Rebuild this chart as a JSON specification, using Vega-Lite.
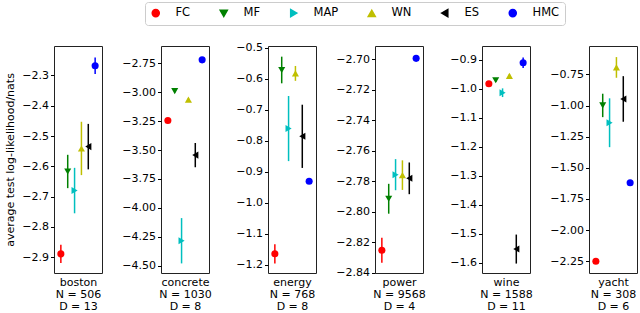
{
  "$schema": "https://vega.github.io/schema/vega-lite/v6.json",
  "padding": {"left": 4, "top": 1, "right": 0, "bottom": 0},
  "background": "white",
  "datasets": {
    "d": [
      {"dataset": "boston", "method": "FC", "mean": -2.889, "err": 0.03},
      {"dataset": "boston", "method": "MF", "mean": -2.617, "err": 0.055},
      {"dataset": "boston", "method": "MAP", "mean": -2.68, "err": 0.075},
      {"dataset": "boston", "method": "WN", "mean": -2.541, "err": 0.088},
      {"dataset": "boston", "method": "ES", "mean": -2.535, "err": 0.075},
      {"dataset": "boston", "method": "HMC", "mean": -2.268, "err": 0.027},
      {"dataset": "concrete", "method": "FC", "mean": -3.244, "err": 0.012},
      {"dataset": "concrete", "method": "MF", "mean": -2.99, "err": 0.012},
      {"dataset": "concrete", "method": "MAP", "mean": -4.285, "err": 0.196},
      {"dataset": "concrete", "method": "WN", "mean": -3.064, "err": 0.012},
      {"dataset": "concrete", "method": "ES", "mean": -3.544, "err": 0.105},
      {"dataset": "concrete", "method": "HMC", "mean": -2.72, "err": 0.012},
      {"dataset": "energy", "method": "FC", "mean": -1.165, "err": 0.031},
      {"dataset": "energy", "method": "MF", "mean": -0.572, "err": 0.043},
      {"dataset": "energy", "method": "MAP", "mean": -0.761, "err": 0.105},
      {"dataset": "energy", "method": "WN", "mean": -0.583, "err": 0.024},
      {"dataset": "energy", "method": "ES", "mean": -0.786, "err": 0.102},
      {"dataset": "energy", "method": "HMC", "mean": -0.931, "err": 0.004},
      {"dataset": "power", "method": "FC", "mean": -2.8254, "err": 0.0082},
      {"dataset": "power", "method": "MF", "mean": -2.7916, "err": 0.0098},
      {"dataset": "power", "method": "MAP", "mean": -2.7758, "err": 0.0102},
      {"dataset": "power", "method": "WN", "mean": -2.7761, "err": 0.0097},
      {"dataset": "power", "method": "ES", "mean": -2.7782, "err": 0.0104},
      {"dataset": "power", "method": "HMC", "mean": -2.6995, "err": 0.001},
      {"dataset": "wine", "method": "FC", "mean": -0.982, "err": 0.006},
      {"dataset": "wine", "method": "MF", "mean": -0.97, "err": 0.006},
      {"dataset": "wine", "method": "MAP", "mean": -1.013, "err": 0.015},
      {"dataset": "wine", "method": "WN", "mean": -0.955, "err": 0.006},
      {"dataset": "wine", "method": "ES", "mean": -1.552, "err": 0.05},
      {"dataset": "wine", "method": "HMC", "mean": -0.91, "err": 0.018},
      {"dataset": "yacht", "method": "FC", "mean": -2.25, "err": 0.01},
      {"dataset": "yacht", "method": "MF", "mean": -0.999, "err": 0.094},
      {"dataset": "yacht", "method": "MAP", "mean": -1.138, "err": 0.196},
      {"dataset": "yacht", "method": "WN", "mean": -0.694, "err": 0.083},
      {"dataset": "yacht", "method": "ES", "mean": -0.947, "err": 0.183},
      {"dataset": "yacht", "method": "HMC", "mean": -1.62, "err": 0.01}
    ]
  },
  "config": {
    "font": "DejaVu Sans",
    "view": {"stroke": "#222", "strokeWidth": 1},
    "axis": {
      "labelFont": "DejaVu Sans", "labelFontSize": 11, "labelColor": "#000",
      "titleFont": "DejaVu Sans", "titleFontSize": 11, "titleFontWeight": "normal", "titleColor": "#000",
      "tickColor": "#000", "tickSize": 3.5, "labelPadding": 2, "grid": false, "domain": false
    },
    "legend": {
      "labelFont": "DejaVu Sans", "labelFontSize": 11.5, "labelColor": "#000"
    }
  },
  "resolve": {"scale": {"y": "independent", "x": "independent"}},
  "bounds": "flush",
  "spacing": 59,
  "hconcat": [
    {
      "width": 48, "height": 227,
      "data": {"name": "d"},
      "transform": [{"filter": "datum.dataset === 'boston'"}],
      "encoding": {
        "x": {"field": "method", "type": "nominal", "scale": {"type": "point", "domain": ["FC", "MF", "MAP", "WN", "ES", "HMC"], "padding": 1},
              "axis": {"title": ["boston", "N = 506", "D = 13"], "labels": false, "ticks": false, "titlePadding": 3, "titleLineHeight": 12.3}},
        "y": {"field": "mean", "type": "quantitative", "scale": {"domain": [-2.952, -2.203], "nice": false, "zero": false},
              "axis": {"values": [-2.3, -2.4, -2.5, -2.6, -2.7, -2.8, -2.9], "format": ".1f", "title": "average test log-likelihood/nats", "titlePadding": 6}},
        "color": {"field": "method", "type": "nominal",
                  "scale": {"domain": ["FC", "MF", "MAP", "WN", "ES", "HMC"], "range": ["#ff0000", "#008000", "#00bfbf", "#bfbf00", "#000000", "#0000ff"]},
                  "legend": {"title": null, "orient": "none", "legendX": 91, "legendY": -44, "direction": "horizontal", "columns": 6,
                             "columnPadding": 26, "labelOffset": 14, "symbolSize": 50, "strokeColor": "#cccccc", "padding": 5, "cornerRadius": 3}}
      },
      "layer": [
        {"mark": {"type": "errorbar", "thickness": 1.5}, "encoding": {"yError": {"field": "err"}}},
        {"mark": {"type": "point", "filled": true, "size": 50, "opacity": 1},
         "encoding": {"shape": {"field": "method", "type": "nominal",
                                "scale": {"domain": ["FC", "MF", "MAP", "WN", "ES", "HMC"], "range": ["circle", "triangle-down", "triangle-right", "triangle-up", "triangle-left", "circle"]},
                                "legend": {"title": null, "orient": "none", "legendX": 91, "legendY": -44, "direction": "horizontal", "columns": 6,
                                           "columnPadding": 26, "labelOffset": 14, "symbolSize": 50, "strokeColor": "#cccccc", "padding": 5, "cornerRadius": 3}}}}
      ]
    },
    {
      "width": 48, "height": 227,
      "data": {"name": "d"},
      "transform": [{"filter": "datum.dataset === 'concrete'"}],
      "encoding": {
        "x": {"field": "method", "type": "nominal", "scale": {"type": "point", "domain": ["FC", "MF", "MAP", "WN", "ES", "HMC"], "padding": 1},
              "axis": {"title": ["concrete", "N = 1030", "D = 8"], "labels": false, "ticks": false, "titlePadding": 3, "titleLineHeight": 12.3}},
        "y": {"field": "mean", "type": "quantitative", "scale": {"domain": [-4.564, -2.6], "nice": false, "zero": false},
              "axis": {"values": [-2.75, -3.0, -3.25, -3.5, -3.75, -4.0, -4.25, -4.5], "format": ".2f", "title": null}},
        "color": {"field": "method", "type": "nominal", "scale": {"domain": ["FC", "MF", "MAP", "WN", "ES", "HMC"], "range": ["#ff0000", "#008000", "#00bfbf", "#bfbf00", "#000000", "#0000ff"]}, "legend": null}
      },
      "layer": [
        {"mark": {"type": "errorbar", "thickness": 1.5}, "encoding": {"yError": {"field": "err"}}},
        {"mark": {"type": "point", "filled": true, "size": 50, "opacity": 1},
         "encoding": {"shape": {"field": "method", "type": "nominal", "scale": {"domain": ["FC", "MF", "MAP", "WN", "ES", "HMC"], "range": ["circle", "triangle-down", "triangle-right", "triangle-up", "triangle-left", "circle"]}, "legend": null}}}
      ]
    },
    {
      "width": 48, "height": 227,
      "data": {"name": "d"},
      "transform": [{"filter": "datum.dataset === 'energy'"}],
      "encoding": {
        "x": {"field": "method", "type": "nominal", "scale": {"type": "point", "domain": ["FC", "MF", "MAP", "WN", "ES", "HMC"], "padding": 1},
              "axis": {"title": ["energy", "N = 768", "D = 8"], "labels": false, "ticks": false, "titlePadding": 3, "titleLineHeight": 12.3}},
        "y": {"field": "mean", "type": "quantitative", "scale": {"domain": [-1.227, -0.4946], "nice": false, "zero": false},
              "axis": {"values": [-0.5, -0.6, -0.7, -0.8, -0.9, -1.0, -1.1, -1.2], "format": ".1f", "title": null}},
        "color": {"field": "method", "type": "nominal", "scale": {"domain": ["FC", "MF", "MAP", "WN", "ES", "HMC"], "range": ["#ff0000", "#008000", "#00bfbf", "#bfbf00", "#000000", "#0000ff"]}, "legend": null}
      },
      "layer": [
        {"mark": {"type": "errorbar", "thickness": 1.5}, "encoding": {"yError": {"field": "err"}}},
        {"mark": {"type": "point", "filled": true, "size": 50, "opacity": 1},
         "encoding": {"shape": {"field": "method", "type": "nominal", "scale": {"domain": ["FC", "MF", "MAP", "WN", "ES", "HMC"], "range": ["circle", "triangle-down", "triangle-right", "triangle-up", "triangle-left", "circle"]}, "legend": null}}}
      ]
    },
    {
      "width": 48, "height": 227,
      "data": {"name": "d"},
      "transform": [{"filter": "datum.dataset === 'power'"}],
      "encoding": {
        "x": {"field": "method", "type": "nominal", "scale": {"type": "point", "domain": ["FC", "MF", "MAP", "WN", "ES", "HMC"], "padding": 1},
              "axis": {"title": ["power", "N = 9568", "D = 4"], "labels": false, "ticks": false, "titlePadding": 3, "titleLineHeight": 12.3}},
        "y": {"field": "mean", "type": "quantitative", "scale": {"domain": [-2.8403, -2.6914], "nice": false, "zero": false},
              "axis": {"values": [-2.70, -2.72, -2.74, -2.76, -2.78, -2.80, -2.82, -2.84], "format": ".2f", "title": null}},
        "color": {"field": "method", "type": "nominal", "scale": {"domain": ["FC", "MF", "MAP", "WN", "ES", "HMC"], "range": ["#ff0000", "#008000", "#00bfbf", "#bfbf00", "#000000", "#0000ff"]}, "legend": null}
      },
      "layer": [
        {"mark": {"type": "errorbar", "thickness": 1.5}, "encoding": {"yError": {"field": "err"}}},
        {"mark": {"type": "point", "filled": true, "size": 50, "opacity": 1},
         "encoding": {"shape": {"field": "method", "type": "nominal", "scale": {"domain": ["FC", "MF", "MAP", "WN", "ES", "HMC"], "range": ["circle", "triangle-down", "triangle-right", "triangle-up", "triangle-left", "circle"]}, "legend": null}}}
      ]
    },
    {
      "width": 48, "height": 227,
      "data": {"name": "d"},
      "transform": [{"filter": "datum.dataset === 'wine'"}],
      "encoding": {
        "x": {"field": "method", "type": "nominal", "scale": {"type": "point", "domain": ["FC", "MF", "MAP", "WN", "ES", "HMC"], "padding": 1},
              "axis": {"title": ["wine", "N = 1588", "D = 11"], "labels": false, "ticks": false, "titlePadding": 3, "titleLineHeight": 12.3}},
        "y": {"field": "mean", "type": "quantitative", "scale": {"domain": [-1.6345, -0.852], "nice": false, "zero": false},
              "axis": {"values": [-0.9, -1.0, -1.1, -1.2, -1.3, -1.4, -1.5, -1.6], "format": ".1f", "title": null}},
        "color": {"field": "method", "type": "nominal", "scale": {"domain": ["FC", "MF", "MAP", "WN", "ES", "HMC"], "range": ["#ff0000", "#008000", "#00bfbf", "#bfbf00", "#000000", "#0000ff"]}, "legend": null}
      },
      "layer": [
        {"mark": {"type": "errorbar", "thickness": 1.5}, "encoding": {"yError": {"field": "err"}}},
        {"mark": {"type": "point", "filled": true, "size": 50, "opacity": 1},
         "encoding": {"shape": {"field": "method", "type": "nominal", "scale": {"domain": ["FC", "MF", "MAP", "WN", "ES", "HMC"], "range": ["circle", "triangle-down", "triangle-right", "triangle-up", "triangle-left", "circle"]}, "legend": null}}}
      ]
    },
    {
      "width": 48, "height": 227,
      "data": {"name": "d"},
      "transform": [{"filter": "datum.dataset === 'yacht'"}],
      "encoding": {
        "x": {"field": "method", "type": "nominal", "scale": {"type": "point", "domain": ["FC", "MF", "MAP", "WN", "ES", "HMC"], "padding": 1},
              "axis": {"title": ["yacht", "N = 308", "D = 6"], "labels": false, "ticks": false, "titlePadding": 3, "titleLineHeight": 12.3}},
        "y": {"field": "mean", "type": "quantitative", "scale": {"domain": [-2.344, -0.522], "nice": false, "zero": false},
              "axis": {"values": [-0.75, -1.0, -1.25, -1.5, -1.75, -2.0, -2.25], "format": ".2f", "title": null}},
        "color": {"field": "method", "type": "nominal", "scale": {"domain": ["FC", "MF", "MAP", "WN", "ES", "HMC"], "range": ["#ff0000", "#008000", "#00bfbf", "#bfbf00", "#000000", "#0000ff"]}, "legend": null}
      },
      "layer": [
        {"mark": {"type": "errorbar", "thickness": 1.5}, "encoding": {"yError": {"field": "err"}}},
        {"mark": {"type": "point", "filled": true, "size": 50, "opacity": 1},
         "encoding": {"shape": {"field": "method", "type": "nominal", "scale": {"domain": ["FC", "MF", "MAP", "WN", "ES", "HMC"], "range": ["circle", "triangle-down", "triangle-right", "triangle-up", "triangle-left", "circle"]}, "legend": null}}}
      ]
    }
  ]
}
